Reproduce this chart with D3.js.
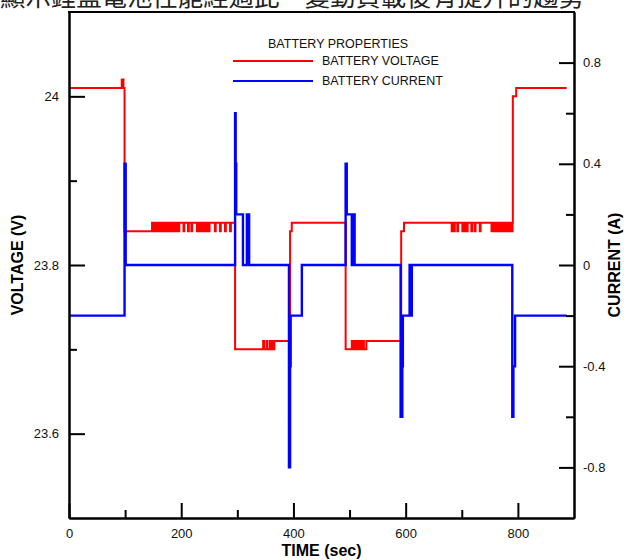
<!DOCTYPE html>
<html>
<head>
<meta charset="utf-8">
<script src="https://cdn.jsdelivr.net/npm/d3@7"></script>
<style>
  body { margin: 0; background: #fff; }
  svg { display: block; font-family: "Liberation Sans", Arial, sans-serif; }
</style>
</head>
<body>
<svg id="chart" width="624" height="560"></svg>
<script>
// values
var title = "顯示鋰鹽電池性能經過此一變動負載後有提升的趨勢";

// voltage steps [time, volts], held until the next point
var voltSteps = [
  [0, 24.01], [94, 24.02], [97, 24.01], [99, 23.84],
  [148, 23.85],
  [296, 23.70], [366, 23.71],
  [394, 23.84], [397, 23.85],
  [493, 23.70], [530, 23.71],
  [592, 23.84], [597, 23.85],
  [791, 24.00], [797, 24.01], [887, 24.01]
];
// short dips to 23.84 on the 23.85 plateaus
var dipTimes = [150, 153, 156, 159, 162, 165, 168, 171, 174, 177, 180, 183, 186, 189, 192, 195,
  204, 212, 218, 228, 231, 234, 237, 240, 243, 246, 249, 260, 269, 278, 287,
  682, 686, 692, 701, 705, 709, 717, 723, 732,
  753, 755, 757, 759, 761, 763, 765, 767, 769, 771, 773, 775, 777, 779, 781, 783, 785, 787, 789];
// short bumps to 23.71 on the 23.70 plateaus
var bumpTimes = [346, 352, 358, 363, 504, 509, 514, 519, 524];

// current steps [time, amps]
var currSteps = [
  [0, -0.2], [99, 0.4], [101, 0],
  [296, 0.6], [297, 0.4], [298, 0.2], [310, 0], [317, 0.2], [321, 0],
  [392, -0.8], [394, -0.4], [395, -0.2], [415, 0],
  [493, 0.4], [495, 0.2], [504, 0], [505, 0.2], [509, 0],
  [591, -0.6], [594, -0.4], [595, -0.2], [607, 0], [609, -0.2], [611, 0],
  [790, -0.6], [792, -0.4], [795, -0.2], [887, -0.2]
];

var timeMajor = [0, 200, 400, 600, 800], timeMinor = [100, 300, 500, 700];
var voltMajor = [23.6, 23.8, 24], voltMinor = [23.7, 23.9];
var currMajor = [-0.8, -0.4, 0, 0.4, 0.8], currMinor = [-0.6, -0.2, 0.2, 0.6];

(function() {
  var svg = d3.select("#chart");
  var pl = 69, pr = 574, pt = 12, pb = 518;

  var x = d3.scaleLinear().domain([0, 900]).range([pl, pr]);
  var yV = d3.scaleLinear().domain([23.5, 24.1]).range([pb, pt]);
  var yC = d3.scaleLinear().domain([-1, 1]).range([pb, pt]);

  svg.append("text")
    .attr("x", 0).attr("y", 6)
    .attr("font-family", "'Noto Sans CJK TC', 'Noto Sans CJK SC', sans-serif")
    .attr("font-size", 25.4).attr("fill", "#222")
    .text(title);

  // voltage series with its dips and bumps merged in
  var volt = voltSteps.slice();
  dipTimes.forEach(t => { volt.push([t, 23.84]); volt.push([t + 1.5, 23.85]); });
  bumpTimes.forEach(t => { volt.push([t, 23.71]); volt.push([t + 1.5, 23.70]); });
  volt.sort((a, b) => a[0] - b[0]);

  var lineV = d3.line().x(d => x(d[0])).y(d => yV(d[1])).curve(d3.curveStepAfter);
  var lineC = d3.line().x(d => x(d[0])).y(d => yC(d[1])).curve(d3.curveStepAfter);

  svg.append("path").datum(volt)
    .attr("d", lineV).attr("fill", "none")
    .attr("stroke", "#ff0000").attr("stroke-width", 2);
  svg.append("path").datum(currSteps)
    .attr("d", lineC).attr("fill", "none")
    .attr("stroke", "#0000ff").attr("stroke-width", 2.4);

  // axes, ticks inward
  function styleAxis(g) {
    g.selectAll("path, line").attr("stroke", "#000").attr("stroke-width", 2);
    g.selectAll("text").attr("font-size", 13).attr("fill", "#111")
      .attr("font-family", "'Liberation Sans', Arial, sans-serif");
  }
  var fmt = d => String(d);

  svg.append("g").attr("transform", "translate(0," + pb + ")")
    .call(d3.axisBottom(x).tickValues(timeMajor).tickSizeInner(-15).tickSizeOuter(0).tickPadding(11).tickFormat(fmt))
    .call(styleAxis);
  svg.append("g").attr("transform", "translate(0," + pb + ")")
    .call(d3.axisBottom(x).tickValues(timeMinor).tickSizeInner(-8).tickSizeOuter(0).tickFormat(""))
    .call(styleAxis);

  svg.append("g").attr("transform", "translate(" + pl + ",0)")
    .call(d3.axisLeft(yV).tickValues(voltMajor).tickSizeInner(-16).tickSizeOuter(0).tickPadding(10).tickFormat(fmt))
    .call(styleAxis);
  svg.append("g").attr("transform", "translate(" + pl + ",0)")
    .call(d3.axisLeft(yV).tickValues(voltMinor).tickSizeInner(-8).tickSizeOuter(0).tickFormat(""))
    .call(styleAxis);

  svg.append("g").attr("transform", "translate(" + pr + ",0)")
    .call(d3.axisRight(yC).tickValues(currMajor).tickSizeInner(-15).tickSizeOuter(0).tickPadding(9).tickFormat(fmt))
    .call(styleAxis);
  svg.append("g").attr("transform", "translate(" + pr + ",0)")
    .call(d3.axisRight(yC).tickValues(currMinor).tickSizeInner(-8).tickSizeOuter(0).tickFormat(""))
    .call(styleAxis);

  svg.append("line")
    .attr("x1", pl - 1).attr("x2", pr + 1).attr("y1", pt).attr("y2", pt)
    .attr("stroke", "#000").attr("stroke-width", 2);

  // axis titles
  svg.append("text")
    .attr("x", (pl + pr) / 2).attr("y", 556)
    .attr("text-anchor", "middle").attr("font-size", 16).attr("font-weight", "bold")
    .text("TIME (sec)");
  svg.append("text")
    .attr("transform", "translate(23," + yV(23.8) + ") rotate(-90)")
    .attr("text-anchor", "middle").attr("font-size", 16).attr("font-weight", "bold")
    .text("VOLTAGE (V)");
  svg.append("text")
    .attr("transform", "translate(620," + yC(0) + ") rotate(-90)")
    .attr("text-anchor", "middle").attr("font-size", 16).attr("font-weight", "bold")
    .text("CURRENT (A)");

  // legend
  var legend = svg.append("g").attr("font-size", 12.5).attr("fill", "#111");
  legend.append("text").attr("x", 268).attr("y", 48).text("BATTERY PROPERTIES");
  [["BATTERY VOLTAGE", "#ff0000", 61], ["BATTERY CURRENT", "#0000ff", 81]].forEach(function(d) {
    legend.append("line").attr("x1", 233).attr("x2", 313).attr("y1", d[2]).attr("y2", d[2])
      .attr("stroke", d[1]).attr("stroke-width", 2);
    legend.append("text").attr("x", 322).attr("y", d[2] + 4).text(d[0]);
  });
})();
</script>
</body>
</html>
